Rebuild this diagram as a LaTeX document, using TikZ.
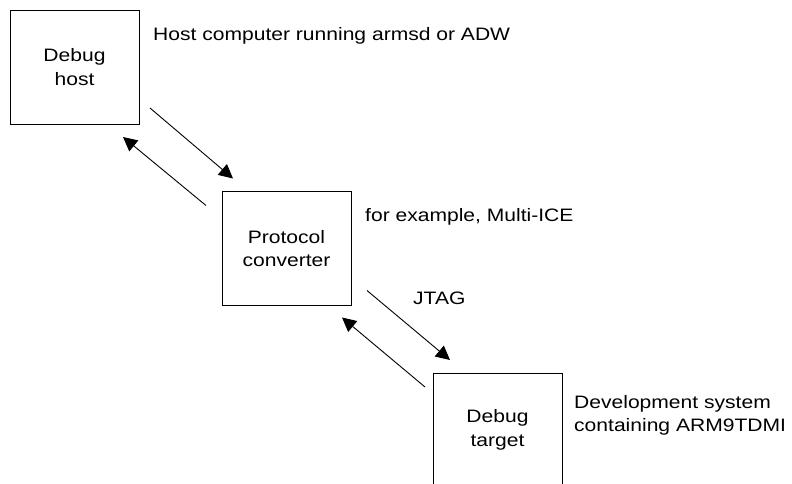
\documentclass[tikz,border=0pt]{standalone}
\usepackage{fontspec}
\setmainfont{Liberation Sans}[FakeStretch=1.17]
\usetikzlibrary{arrows.meta,calc}
\begin{document}
\begin{tikzpicture}[x=1pt,y=-1pt,
  box/.style={draw,line width=0.9pt,minimum width=129pt,minimum height=114pt,
    inner sep=0pt,outer sep=0pt,align=center,font=\fontsize{18}{23.5}\selectfont},
  lbl/.style={inner sep=0pt,align=left,font=\fontsize{18}{23.5}\selectfont},
  arr/.style={line width=0.9pt,-{Triangle[length=14pt,width=14pt]}}]
\useasboundingbox (0,0) rectangle (792,483);
\clip (0,0) rectangle (792,483);
\node[box] (host) at (74.5,67) {Debug\\host};
\node[box] (conv) at (286.5,248.5) {Protocol\\converter};
\node[box] (tgt) at (497.5,430) {Debug\\target};
\node[lbl,anchor=base west] (hostlbl) at (153,40) {Host computer running armsd or ADW};
\node[lbl,anchor=base west] (convlbl) at (365,221) {for example, Multi-ICE};
\node[lbl,anchor=base west] (jtag) at (413,304) {JTAG};
\node[lbl,anchor=north west] (tgtlbl) at (574,395) {Development system\\containing ARM9TDMI};
\draw[arr] ($(host.south east)+(11,-16)$) -- ($(conv.north west)+(11,-13)$);
\draw[arr] ($(conv.north west)+(-16,14)$) -- ($(host.south east)+(-16,13)$);
\draw[arr] ($(conv.south east)+(16,-15)$) -- ($(tgt.north west)+(17,-13)$);
\draw[arr] ($(tgt.north west)+(-8,14)$) -- ($(conv.south east)+(-9,12)$);
\end{tikzpicture}
\end{document}
